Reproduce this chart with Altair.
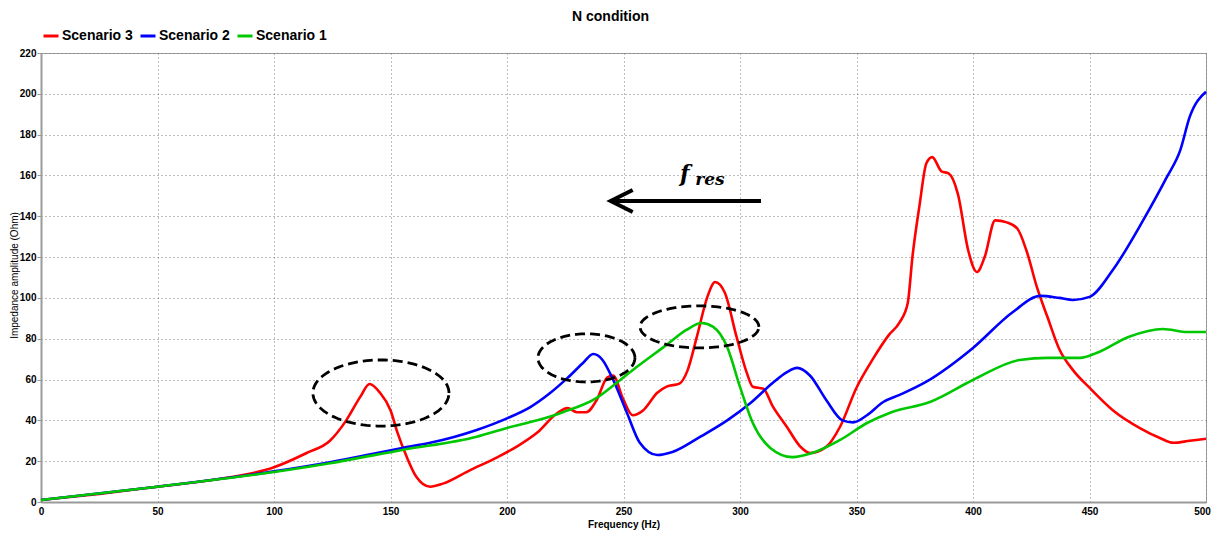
import altair as alt
import pandas as pd
import numpy as np

# ---------------- data ----------------
series_names = ["Scenario 3", "Scenario 2", "Scenario 1"]
series_colors = ["#ff0000", "#0000ff", "#00c800"]

freq_s3 = [0, 25, 50, 75, 100, 114, 124, 131, 137, 141, 145.5, 150, 153, 157, 161, 167, 172.5,
           184, 196, 204, 213, 221.5, 226, 230, 234, 238.5, 243, 245.5, 250, 254, 258.5, 264.5,
           268.5, 274, 277.5, 281.5, 286, 289.3, 293.5, 298.5, 303, 305.5, 310, 314, 320, 326,
           330, 337, 343, 350, 357, 364, 368.5, 372, 374, 377, 380, 382.5, 386.5, 389.5, 393.5,
           398, 401.7, 405, 409.5, 414.5, 419, 423, 427.5, 432, 437, 443, 450, 460, 472, 480,
           486, 493, 500]
imp_s3 = [1, 4, 7.5, 11, 17, 24, 30, 40, 51.5, 57.8, 53.5, 45, 34, 22, 12.5, 7.5, 9,
          15.5, 22, 27, 34, 43.5, 46, 44, 44, 50, 61, 62, 50, 42.5, 45, 53.5,
          56.5, 58, 64.5, 81, 100.5, 107.8, 102.5, 81, 63, 56.5, 55.5, 47, 37, 27,
          24, 27, 37, 56, 70, 82, 88, 97.5, 120, 145, 166, 169, 162, 161, 151,
          123, 112.7, 120, 138, 137, 134, 123, 105, 90.5, 75, 64.5, 56, 45, 36, 31.5,
          29, 30, 31]

freq_s2 = [0, 50, 100, 124, 155, 167, 187, 200, 210, 218.5, 226, 232.5, 237, 241, 245.5, 251.5,
           257, 264.5, 271, 283, 294.5, 304.5, 314, 320, 324.5, 330, 337, 344, 348.5, 354.5,
           361.5, 368.5, 380, 400, 417, 429, 437, 443, 450, 460, 473, 483, 489, 493, 500]
imp_s2 = [1, 7.5, 15, 19.5, 26.5, 29, 35.3, 41, 46.5, 53.4, 60.8, 68, 72.5, 69.6, 60, 43.6,
          29, 23, 24.5, 32, 40, 48.5, 58.3, 63.5, 65.7, 62, 50, 40, 39, 42.5,
          49, 52.5, 59, 75.5, 93, 101, 100, 99, 100.5, 113.7, 138, 158.8, 172.5, 188.7, 201]

freq_s1 = [0, 50, 100, 124, 155, 187, 200, 213, 224, 238.5, 247, 254, 268.5, 277, 283.5, 288.5,
           294.5, 300, 305.5, 313, 322.5, 331, 343, 354.5, 365, 381.5, 400, 420, 432, 446, 453,
           467, 481.5, 492, 500]
imp_s1 = [1, 7.5, 14.7, 19, 25.5, 32, 36.3, 40, 44, 51, 58.3, 64.7, 77, 84.3, 87.7, 85.8,
          76, 56.4, 38.7, 26.5, 22, 24, 30.4, 38.7, 44, 49, 59.8, 69.6, 70.6, 70.6, 73,
          81, 84.8, 83.3, 83.3]

x_ticks = list(range(0, 501, 50))
y_ticks = list(range(0, 221, 20))

# annotation shapes (in data units: Hz / Ohm)
ellipse_cx = [145.9, 234.1, 282.6]
ellipse_cy = [53.4, 70.6, 85.8]
ellipse_rx = [29.2, 20.8, 25.5]
ellipse_ry = [16.2, 11.8, 10.3]

arrow_tail_x = [309.0]
arrow_head_x = [244.5]
arrow_y = [147.5]

label_main = ["f"]
label_sub = ["res"]
label_main_x = [274.2]
label_main_y = [157.5]
label_sub_x = [280.8]
label_sub_y = [155.5]

# ---------------- tables ----------------
rows = []
for name, fr, im in [("Scenario 3", freq_s3, imp_s3),
                     ("Scenario 2", freq_s2, imp_s2),
                     ("Scenario 1", freq_s1, imp_s1)]:
    for f, v in zip(fr, im):
        rows.append({"series": name, "f": f, "z": v})
df = pd.DataFrame(rows)

t = np.linspace(0, 2 * np.pi, 121)
erows = []
for i, (cx, cy, rx, ry) in enumerate(zip(ellipse_cx, ellipse_cy, ellipse_rx, ellipse_ry)):
    for k, tt in enumerate(t):
        erows.append({"id": i, "k": k, "f": cx + rx * np.cos(tt), "z": cy + ry * np.sin(tt)})
df_ell = pd.DataFrame(erows)

df_arrow = pd.DataFrame({"f": arrow_head_x, "f2": arrow_tail_x, "z": arrow_y})
df_lab1 = pd.DataFrame({"f": label_main_x, "z": label_main_y, "txt": label_main})
df_lab2 = pd.DataFrame({"f": label_sub_x, "z": label_sub_y, "txt": label_sub})

# ---------------- encodings ----------------
FONT = "Liberation Sans"
xscale = alt.Scale(domain=[0, 500], nice=False, zero=False)
yscale = alt.Scale(domain=[0, 220], nice=False)

x_axis = alt.Axis(values=x_ticks, format="d", grid=True, gridDash=[1, 3], gridColor="#7a7a7a",
                  gridWidth=1, domainColor="#9a9a9a", domainWidth=2, tickSize=0,
                  labelFont=FONT, labelFontSize=10, labelFontWeight="bold", labelColor="#000",
                  labelPadding=4, labelFlush=False,
                  labelOffset={"condition": {"test": "datum.value >= 500", "value": -4}, "value": 0},
                  title="Frequency (Hz)", titleFont=FONT,
                  titleFontSize=10, titleFontWeight="bold", titleColor="#000", titlePadding=3)
y_axis = alt.Axis(values=y_ticks, format="d", grid=True, gridDash=[1, 3], gridColor="#7a7a7a",
                  gridWidth=1, domainColor="#9a9a9a", domainWidth=2, tickSize=4,
                  tickColor="#9a9a9a", labelFont=FONT, labelFontSize=10, labelFontWeight="bold",
                  labelColor="#000", labelPadding=1, title="Impedance amplitude (Ohm)",
                  titleFont=FONT, titleFontSize=10, titleFontWeight="normal", titleColor="#000",
                  titleX=-27, titleY=222, titleBaseline="middle", titleAngle=270)

X = alt.X("f:Q", scale=xscale, axis=x_axis)
Y = alt.Y("z:Q", scale=yscale, axis=y_axis)

color = alt.Color("series:N",
                  scale=alt.Scale(domain=series_names, range=series_colors),
                  legend=alt.Legend(orient="none", legendX=1, legendY=-26, direction="horizontal",
                                    title=None, symbolType="stroke", symbolSize=225,
                                    symbolStrokeWidth=3, labelFont=FONT, labelFontSize=14,
                                    labelFontWeight="bold", labelColor="#000", labelOffset=2,
                                    columnPadding=1, padding=0, labelLimit=0))

layers = []
for name in series_names:
    layers.append(
        alt.Chart(df).transform_filter(alt.datum.series == name)
        .mark_line(strokeWidth=2.6, interpolate="monotone")
        .encode(x=X, y=Y, color=color)
    )

ellipses = alt.Chart(df_ell).mark_line(color="black", strokeWidth=2.8, strokeDash=[10, 5]).encode(
    x=X, y=Y, detail="id:N", order="k:Q")

shaft = alt.Chart(df_arrow).mark_rule(color="black", strokeWidth=4).encode(
    x=X, x2="f2:Q", y=Y)
head = alt.Chart(df_arrow).mark_point(shape="M1,-0.5L0,0L1,0.5", size=1936, filled=False,
                                      color="black", strokeWidth=4, opacity=1).encode(x=X, y=Y)

lab1 = alt.Chart(df_lab1).mark_text(font="DejaVu Serif", fontStyle="italic", fontWeight="bold",
                                    fontSize=22, align="left", baseline="alphabetic",
                                    color="black").encode(x=X, y=Y, text="txt:N")
lab2 = alt.Chart(df_lab2).mark_text(font="DejaVu Serif", fontStyle="italic", fontWeight="bold",
                                    fontSize=17, align="left", baseline="alphabetic",
                                    color="black").encode(x=X, y=Y, text="txt:N")

chart = alt.layer(*layers, ellipses, shaft, head, lab1, lab2).properties(
    width=1165, height=449,
    autosize=alt.AutoSizeParams(type="none"),
    padding={"left": 33, "top": 45, "right": 6, "bottom": 30},
    title=alt.TitleParams("N condition", anchor="middle", frame="group", font=FONT,
                          fontSize=14, fontWeight="bold", color="#000", dx=-13, offset=3),
).configure_view(stroke="#a0a0a0", strokeWidth=1)

chart.save("out.html", embed_options={"renderer": "svg", "actions": False})
